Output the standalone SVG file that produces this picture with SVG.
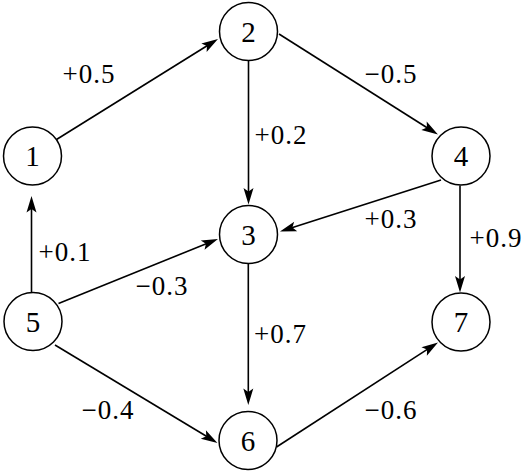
<svg xmlns="http://www.w3.org/2000/svg" width="530" height="471" viewBox="0 0 530 471">
<style>
.node circle{fill:#fff;stroke:#000;stroke-width:1.5}
.edge{stroke:#000;stroke-width:1.6;fill:none;marker-end:url(#ah)}
.lbl{font-family:"Liberation Serif","Times New Roman","DejaVu Serif",serif;font-size:27px;letter-spacing:1px;text-anchor:middle;fill:#000}
.num{font-family:"Liberation Serif","Times New Roman","DejaVu Serif",serif;font-size:29px;text-anchor:middle;fill:#000}
</style>
<defs>
<marker id="ah" markerUnits="userSpaceOnUse" viewBox="-7 -6 18 12" refX="0" refY="0" markerWidth="18" markerHeight="12" orient="auto">
<path d="M10,0 L-6.5,-5 L-3,0 L-6.5,5 Z" fill="#000"/>
</marker>
</defs>
<rect width="530" height="471" fill="#fff"/>
<g id="connectors">
<line class="edge" x1="56.5" y1="139.5" x2="209.5" y2="44.3"/>
<line class="edge" x1="279" y1="34" x2="429.5" y2="129.2"/>
<line class="edge" x1="248.5" y1="61" x2="248.5" y2="194.5"/>
<line class="edge" x1="441" y1="180" x2="289.5" y2="228.5"/>
<line class="edge" x1="460" y1="185.5" x2="460" y2="282.5"/>
<line class="edge" x1="31.5" y1="292" x2="31.5" y2="206"/>
<line class="edge" x1="58.5" y1="303.5" x2="208.7" y2="242.75"/>
<line class="edge" x1="248.3" y1="264" x2="248.3" y2="395"/>
<line class="edge" x1="55" y1="345" x2="208.9" y2="437.8"/>
<line class="edge" x1="276.5" y1="447" x2="429.6" y2="347.9"/>
</g>
<g id="labels">
<text class="lbl" x="89" y="83">+0.5</text>
<text class="lbl" x="391" y="83">−0.5</text>
<text class="lbl" x="281" y="143.5">+0.2</text>
<text class="lbl" x="391" y="228">+0.3</text>
<text class="lbl" x="496" y="247">+0.9</text>
<text class="lbl" x="65" y="260.5">+0.1</text>
<text class="lbl" x="162" y="295">−0.3</text>
<text class="lbl" x="280.5" y="342.5">+0.7</text>
<text class="lbl" x="108" y="419">−0.4</text>
<text class="lbl" x="391" y="419">−0.6</text>
</g>
<g id="node1" class="node"><circle cx="32.5" cy="156" r="29"/><text class="num" x="32.5" y="166">1</text></g>
<g id="node2" class="node"><circle cx="248.5" cy="31.5" r="29"/><text class="num" x="248.5" y="41.5">2</text></g>
<g id="node3" class="node"><circle cx="248.5" cy="234.5" r="29"/><text class="num" x="248.5" y="244.5">3</text></g>
<g id="node4" class="node"><circle cx="461" cy="156" r="29"/><text class="num" x="461" y="166">4</text></g>
<g id="node5" class="node"><circle cx="33" cy="321.5" r="29"/><text class="num" x="33" y="331.5">5</text></g>
<g id="node6" class="node"><circle cx="248" cy="440.5" r="29"/><text class="num" x="248" y="450.5">6</text></g>
<g id="node7" class="node"><circle cx="461" cy="322" r="29"/><text class="num" x="461" y="332">7</text></g>
</svg>
